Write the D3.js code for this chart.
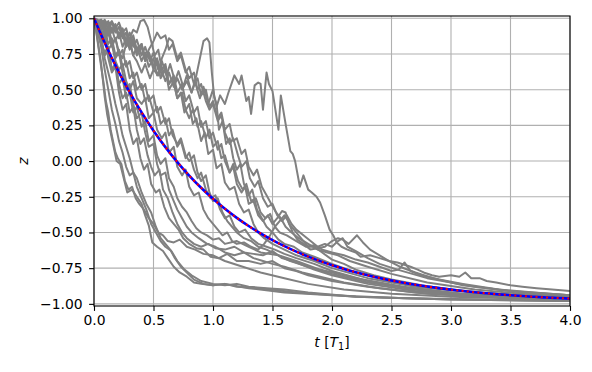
<!DOCTYPE html>
<html>
<head>
<meta charset="utf-8">
<script src="https://cdn.jsdelivr.net/npm/d3@7"></script>
<style>
  html, body { margin: 0; padding: 0; background: #fff; }
  svg { display: block; font-family: 'DejaVu Sans', sans-serif; }
</style>
</head>
<body>
<svg id="chart" width="592" height="372"></svg>
<script>
// tick values
const xTicks = [0, 0.5, 1, 1.5, 2, 2.5, 3, 3.5, 4]
const yTicks = [-1, -0.75, -0.5, -0.25, 0, 0.25, 0.5, 0.75, 1]

// mean over trajectories / analytic relaxation
const meanT = [0, 0.1, 0.2, 0.3, 0.4, 0.5, 0.6, 0.7, 0.8, 0.9, 1, 1.1, 1.2, 1.3, 1.4, 1.5, 1.6, 1.7, 1.8, 1.9, 2,
  2.1, 2.2, 2.3, 2.4, 2.5, 2.6, 2.7, 2.8, 2.9, 3, 3.1, 3.2, 3.3, 3.4, 3.5, 3.6, 3.7, 3.8, 3.9, 4]
const meanZ = [1, 0.8097, 0.6375, 0.4816, 0.3406, 0.2131, 0.0976, -0.0068, -0.1013, -0.1869, -0.2642,
  -0.3343, -0.3976, -0.4549, -0.5068, -0.5537, -0.5962, -0.6346, -0.6694, -0.7009, -0.7293,
  -0.7551, -0.7784, -0.7995, -0.8186, -0.8358, -0.8515, -0.8656, -0.8784, -0.89, -0.9004,
  -0.9099, -0.9185, -0.9262, -0.9333, -0.9396, -0.9454, -0.9506, -0.9553, -0.9595, -0.9634]
const exactZ = meanZ.slice()

// single trajectories [t, z]
const traj01 = [[0, 1], [0.03, 0.98], [0.06, 0.99], [0.09, 0.95], [0.12, 0.98], [0.15, 0.92], [0.18, 0.96], [0.21, 0.88],
  [0.24, 0.93], [0.27, 0.84], [0.3, 0.9], [0.33, 0.8], [0.36, 0.85], [0.4, 0.74], [0.43, 0.8], [0.47, 0.7], [0.5, 0.76],
  [0.54, 0.64], [0.57, 0.7], [0.61, 0.6], [0.64, 0.68], [0.68, 0.56], [0.71, 0.63], [0.75, 0.52], [0.78, 0.6],
  [0.82, 0.48], [0.85, 0.55], [0.89, 0.44], [0.92, 0.52], [0.96, 0.4], [1, 0.5], [1.03, 0.38], [1.06, 0.46],
  [1.1, 0.4], [1.13, 0.48], [1.18, 0.6], [1.22, 0.54], [1.24, 0.6], [1.28, 0.42], [1.3, 0.45], [1.32, 0.33],
  [1.35, 0.53], [1.38, 0.55], [1.4, 0.54], [1.42, 0.36], [1.45, 0.62], [1.47, 0.54], [1.5, 0.49], [1.55, 0.22],
  [1.57, 0.46], [1.61, 0.26], [1.65, 0.07], [1.67, 0.05], [1.69, 0], [1.73, -0.18], [1.76, -0.1], [1.8, -0.2],
  [1.83, -0.22], [1.87, -0.25], [1.9, -0.29], [1.94, -0.38], [1.98, -0.48], [2.01, -0.52], [2.04, -0.57],
  [2.08, -0.6], [2.13, -0.62], [2.2, -0.64], [2.24, -0.67], [2.32, -0.66], [2.4, -0.68], [2.48, -0.7],
  [2.55, -0.71], [2.66, -0.74], [2.72, -0.76], [2.77, -0.78], [2.84, -0.8], [2.9, -0.81], [3, -0.8],
  [3.07, -0.81], [3.12, -0.78], [3.17, -0.82], [3.24, -0.82], [3.3, -0.84], [3.38, -0.85], [3.5, -0.87],
  [3.6, -0.88], [3.72, -0.89], [3.85, -0.9], [4, -0.91]]
const traj02 = [[0, 1], [0.03, 0.97], [0.06, 0.99], [0.09, 0.93], [0.12, 0.97], [0.15, 0.9], [0.18, 0.95], [0.21, 0.86],
  [0.24, 0.9], [0.27, 0.8], [0.3, 0.84], [0.33, 0.74], [0.36, 0.8], [0.4, 0.7], [0.43, 0.76], [0.46, 0.66], [0.5, 0.72],
  [0.53, 0.6], [0.56, 0.66], [0.6, 0.56], [0.63, 0.62], [0.67, 0.52], [0.7, 0.58], [0.74, 0.5], [0.78, 0.56],
  [0.82, 0.48], [0.86, 0.6], [0.89, 0.72], [0.92, 0.84], [0.95, 0.86], [0.97, 0.83], [0.99, 0.62], [1.01, 0.45],
  [1.03, 0.4], [1.05, 0.22], [1.08, 0.28], [1.11, 0.12], [1.14, 0.16], [1.17, 0.02], [1.2, -0.06], [1.23, -0.02],
  [1.26, -0.16], [1.3, -0.24], [1.33, -0.2], [1.37, -0.34], [1.41, -0.4], [1.45, -0.46], [1.5, -0.5], [1.55, -0.55],
  [1.6, -0.58], [1.68, -0.6], [1.75, -0.64], [1.85, -0.67], [2, -0.72], [2.2, -0.78], [2.5, -0.84], [2.8, -0.88],
  [3.2, -0.92], [3.6, -0.94], [4, -0.96]]
const traj03 = [[0, 1], [0.03, 0.96], [0.06, 0.92], [0.09, 0.84], [0.12, 0.9], [0.15, 0.8], [0.18, 0.86], [0.21, 0.76],
  [0.24, 0.72], [0.27, 0.82], [0.3, 0.86], [0.33, 0.92], [0.36, 0.9], [0.39, 0.98], [0.42, 0.99], [0.45, 0.94],
  [0.48, 0.84], [0.51, 0.74], [0.54, 0.78], [0.57, 0.64], [0.6, 0.68], [0.63, 0.54], [0.66, 0.58], [0.7, 0.44],
  [0.73, 0.48], [0.76, 0.34], [0.8, 0.4], [0.83, 0.26], [0.86, 0.3], [0.9, 0.14], [0.93, 0.2], [0.96, 0.05],
  [1, 0.08], [1.03, -0.05], [1.07, -0.02], [1.1, -0.15], [1.14, -0.2], [1.18, -0.18], [1.22, -0.3], [1.26, -0.36],
  [1.3, -0.34], [1.34, -0.44], [1.38, -0.5], [1.43, -0.54], [1.5, -0.58], [1.6, -0.62], [1.7, -0.66], [1.85, -0.7],
  [2, -0.75], [2.3, -0.82], [2.7, -0.88], [3.2, -0.92], [3.6, -0.94], [4, -0.96]]
const traj04 = [[0, 1], [0.03, 0.98], [0.06, 0.94], [0.09, 0.98], [0.12, 0.92], [0.15, 0.97], [0.18, 0.9], [0.21, 0.94],
  [0.24, 0.86], [0.27, 0.9], [0.3, 0.8], [0.33, 0.86], [0.36, 0.76], [0.4, 0.82], [0.43, 0.7], [0.46, 0.76],
  [0.5, 0.64], [0.53, 0.7], [0.56, 0.58], [0.6, 0.64], [0.63, 0.5], [0.67, 0.56], [0.7, 0.44], [0.74, 0.48],
  [0.77, 0.36], [0.8, 0.3], [0.83, 0.36], [0.87, 0.24], [0.9, 0.28], [0.94, 0.16], [0.97, 0.22], [1, 0.1],
  [1.04, 0.14], [1.07, 0.02], [1.1, 0.04], [1.14, -0.08], [1.17, -0.04], [1.2, -0.16], [1.24, -0.22], [1.27, -0.18],
  [1.3, -0.3], [1.34, -0.28], [1.38, -0.38], [1.42, -0.42], [1.46, -0.38], [1.5, -0.44], [1.54, -0.4], [1.58, -0.35],
  [1.61, -0.36], [1.64, -0.44], [1.68, -0.48], [1.72, -0.52], [1.76, -0.56], [1.8, -0.6], [1.85, -0.6], [1.9, -0.63],
  [2, -0.69], [2.1, -0.72], [2.2, -0.76], [2.35, -0.8], [2.5, -0.83], [2.75, -0.87], [3, -0.9], [3.5, -0.94],
  [4, -0.97]]
const traj05 = [[0, 1], [0.03, 0.94], [0.06, 0.86], [0.09, 0.9], [0.12, 0.78], [0.15, 0.82], [0.18, 0.7], [0.21, 0.64],
  [0.24, 0.68], [0.27, 0.56], [0.3, 0.5], [0.33, 0.56], [0.36, 0.44], [0.4, 0.4], [0.43, 0.44], [0.46, 0.3],
  [0.5, 0.34], [0.53, 0.22], [0.57, 0.16], [0.6, 0.2], [0.63, 0.06], [0.67, 0.1], [0.7, -0.04], [0.74, -0.1],
  [0.77, -0.06], [0.8, -0.18], [0.84, -0.24], [0.88, -0.22], [0.92, -0.34], [0.96, -0.4], [1, -0.44], [1.04, -0.48],
  [1.08, -0.52], [1.12, -0.5], [1.16, -0.56], [1.2, -0.58], [1.26, -0.57], [1.32, -0.6], [1.38, -0.62],
  [1.43, -0.58], [1.48, -0.52], [1.52, -0.46], [1.56, -0.42], [1.6, -0.38], [1.63, -0.42], [1.67, -0.5],
  [1.71, -0.55], [1.76, -0.58], [1.82, -0.62], [1.88, -0.61], [1.94, -0.6], [2, -0.56], [2.05, -0.54],
  [2.09, -0.55], [2.14, -0.58], [2.21, -0.52], [2.26, -0.57], [2.32, -0.62], [2.4, -0.66], [2.48, -0.7],
  [2.57, -0.74], [2.7, -0.78], [2.85, -0.82], [3.1, -0.87], [3.5, -0.91], [4, -0.94]]
const traj06 = [[0, 1], [0.03, 0.99], [0.06, 0.96], [0.09, 0.99], [0.12, 0.95], [0.15, 0.98], [0.18, 0.93], [0.21, 0.97],
  [0.24, 0.9], [0.27, 0.93], [0.3, 0.84], [0.33, 0.88], [0.36, 0.78], [0.4, 0.82], [0.43, 0.72], [0.46, 0.76],
  [0.5, 0.66], [0.53, 0.72], [0.57, 0.6], [0.6, 0.66], [0.63, 0.54], [0.67, 0.6], [0.7, 0.48], [0.74, 0.54],
  [0.77, 0.42], [0.8, 0.46], [0.84, 0.34], [0.87, 0.38], [0.9, 0.24], [0.94, 0.28], [0.97, 0.16], [1, 0.2],
  [1.04, 0.08], [1.07, 0.12], [1.1, 0], [1.14, -0.08], [1.17, -0.02], [1.21, -0.14], [1.25, -0.2], [1.28, -0.16],
  [1.32, -0.28], [1.36, -0.26], [1.4, -0.36], [1.44, -0.4], [1.48, -0.37], [1.52, -0.46], [1.56, -0.5],
  [1.62, -0.52], [1.7, -0.56], [1.78, -0.6], [1.85, -0.59], [1.92, -0.62], [2, -0.64], [2.1, -0.66], [2.2, -0.69],
  [2.3, -0.71], [2.4, -0.74], [2.5, -0.77], [2.56, -0.76], [2.61, -0.71], [2.66, -0.77], [2.75, -0.8],
  [2.9, -0.83], [3.1, -0.86], [3.4, -0.9], [3.7, -0.92], [4, -0.94]]
const traj07 = [[0, 1], [0.03, 0.9], [0.06, 0.82], [0.09, 0.88], [0.12, 0.72], [0.15, 0.62], [0.18, 0.66], [0.21, 0.48],
  [0.24, 0.36], [0.27, 0.4], [0.3, 0.22], [0.33, 0.12], [0.36, 0.16], [0.39, 0.02], [0.42, -0.06], [0.45, -0.02],
  [0.48, -0.16], [0.52, -0.22], [0.55, -0.2], [0.59, -0.32], [0.63, -0.4], [0.67, -0.44], [0.71, -0.48],
  [0.75, -0.54], [0.8, -0.58], [0.86, -0.61], [0.92, -0.62], [0.98, -0.67], [1.05, -0.68], [1.12, -0.65],
  [1.2, -0.7], [1.3, -0.7], [1.4, -0.72], [1.5, -0.7], [1.6, -0.75], [1.7, -0.77], [1.8, -0.8], [2, -0.84],
  [2.3, -0.88], [2.7, -0.92], [3.2, -0.95], [4, -0.97]]
const traj08 = [[0, 1], [0.03, 0.95], [0.06, 0.82], [0.09, 0.76], [0.12, 0.8], [0.15, 0.64], [0.18, 0.68], [0.21, 0.54],
  [0.24, 0.44], [0.27, 0.48], [0.3, 0.34], [0.33, 0.38], [0.36, 0.22], [0.39, 0.12], [0.42, 0.16], [0.45, 0.04],
  [0.48, -0.04], [0.51, -0.1], [0.55, -0.06], [0.58, -0.2], [0.62, -0.26], [0.66, -0.36], [0.7, -0.44],
  [0.74, -0.5], [0.78, -0.54], [0.84, -0.58], [0.9, -0.6], [0.96, -0.58], [1.02, -0.61], [1.1, -0.62],
  [1.18, -0.6], [1.26, -0.64], [1.34, -0.65], [1.42, -0.66], [1.5, -0.63], [1.58, -0.68], [1.7, -0.71],
  [1.85, -0.76], [2, -0.8], [2.3, -0.86], [2.7, -0.91], [3.3, -0.95], [4, -0.97]]
const traj09 = [[0, 1], [0.02, 0.9], [0.04, 0.78], [0.06, 0.66], [0.08, 0.55], [0.1, 0.42], [0.12, 0.34], [0.14, 0.22],
  [0.16, 0.14], [0.18, 0.06], [0.2, 0.02], [0.23, -0.02], [0.26, -0.14], [0.29, -0.2], [0.32, -0.18], [0.35, -0.26],
  [0.38, -0.3], [0.42, -0.34], [0.46, -0.4], [0.5, -0.44], [0.54, -0.5], [0.58, -0.52], [0.62, -0.56],
  [0.67, -0.57], [0.72, -0.55], [0.78, -0.6], [0.85, -0.62], [0.92, -0.65], [1, -0.66], [1.1, -0.7],
  [1.25, -0.74], [1.4, -0.78], [1.6, -0.82], [1.8, -0.86], [2.1, -0.9], [2.5, -0.93], [3, -0.95], [4, -0.97]]
const traj10 = [[0, 1], [0.03, 0.92], [0.06, 0.8], [0.09, 0.64], [0.12, 0.5], [0.15, 0.36], [0.18, 0.26], [0.21, 0.14],
  [0.24, 0.06], [0.27, -0.04], [0.3, -0.1], [0.33, -0.08], [0.36, -0.18], [0.4, -0.26], [0.44, -0.34], [0.48, -0.44],
  [0.52, -0.5], [0.56, -0.56], [0.6, -0.6], [0.65, -0.63], [0.7, -0.7], [0.76, -0.76], [0.82, -0.8], [0.9, -0.84],
  [1, -0.86], [1.1, -0.87], [1.2, -0.86], [1.3, -0.88], [1.45, -0.89], [1.6, -0.9], [1.8, -0.92], [2.2, -0.95],
  [3, -0.97], [4, -0.98]]
const traj11 = [[0, 1], [0.03, 0.9], [0.06, 0.86], [0.09, 0.72], [0.12, 0.62], [0.15, 0.52], [0.18, 0.4], [0.21, 0.3],
  [0.24, 0.18], [0.27, 0.1], [0.3, 0.02], [0.33, -0.08], [0.36, -0.12], [0.4, -0.22], [0.44, -0.3], [0.48, -0.36],
  [0.52, -0.46], [0.56, -0.54], [0.6, -0.58], [0.64, -0.62], [0.68, -0.68], [0.73, -0.74], [0.78, -0.78],
  [0.84, -0.83], [0.92, -0.86], [1, -0.87], [1.1, -0.86], [1.3, -0.89], [1.6, -0.92], [2, -0.94], [2.6, -0.96],
  [3.3, -0.97], [4, -0.98]]
const traj12 = [[0, 1], [0.03, 0.85], [0.06, 0.68], [0.09, 0.45], [0.11, 0.33], [0.14, 0.2], [0.17, 0.08], [0.19, 0],
  [0.22, -0.02], [0.25, -0.12], [0.28, -0.22], [0.32, -0.2], [0.36, -0.25], [0.4, -0.3], [0.43, -0.38],
  [0.46, -0.45], [0.49, -0.57], [0.53, -0.6], [0.58, -0.63], [0.62, -0.68], [0.67, -0.74], [0.72, -0.78],
  [0.78, -0.81], [0.84, -0.85], [0.9, -0.86], [1, -0.87], [1.1, -0.86], [1.2, -0.88], [1.4, -0.89], [1.7, -0.92],
  [2.2, -0.95], [3, -0.97], [4, -0.98]]
const traj13 = [[0, 1], [0.03, 0.97], [0.06, 0.99], [0.09, 0.94], [0.12, 0.97], [0.15, 0.9], [0.18, 0.94], [0.21, 0.86],
  [0.24, 0.9], [0.27, 0.8], [0.3, 0.84], [0.33, 0.74], [0.36, 0.7], [0.4, 0.62], [0.43, 0.68], [0.47, 0.58],
  [0.5, 0.64], [0.54, 0.6], [0.57, 0.72], [0.6, 0.78], [0.63, 0.86], [0.66, 0.84], [0.7, 0.72], [0.73, 0.76],
  [0.77, 0.64], [0.8, 0.58], [0.84, 0.62], [0.87, 0.5], [0.9, 0.54], [0.94, 0.42], [0.97, 0.36], [1, 0.4],
  [1.04, 0.28], [1.07, 0.32], [1.1, 0.2], [1.14, 0.12], [1.17, 0.16], [1.21, 0.04], [1.24, -0.04], [1.28, 0],
  [1.31, -0.12], [1.35, -0.18], [1.38, -0.14], [1.42, -0.26], [1.46, -0.32], [1.5, -0.3], [1.54, -0.38],
  [1.58, -0.42], [1.62, -0.38], [1.66, -0.44], [1.7, -0.48], [1.76, -0.52], [1.82, -0.56], [1.88, -0.6],
  [1.94, -0.58], [2, -0.6], [2.05, -0.56], [2.09, -0.54], [2.13, -0.6], [2.2, -0.63], [2.3, -0.68], [2.4, -0.72],
  [2.55, -0.76], [2.8, -0.82], [3.2, -0.88], [3.6, -0.92], [4, -0.94]]
const traj14 = [[0, 1], [0.03, 0.93], [0.06, 0.88], [0.09, 0.93], [0.12, 0.82], [0.15, 0.86], [0.18, 0.74], [0.21, 0.78],
  [0.24, 0.66], [0.27, 0.7], [0.3, 0.58], [0.33, 0.62], [0.36, 0.5], [0.4, 0.54], [0.43, 0.42], [0.46, 0.46],
  [0.5, 0.34], [0.53, 0.38], [0.56, 0.26], [0.6, 0.3], [0.63, 0.18], [0.66, 0.22], [0.7, 0.1], [0.73, 0.14],
  [0.77, 0.02], [0.8, 0.06], [0.84, -0.06], [0.87, -0.12], [0.9, -0.08], [0.94, -0.2], [0.98, -0.26],
  [1.02, -0.24], [1.06, -0.34], [1.1, -0.4], [1.14, -0.38], [1.18, -0.46], [1.22, -0.5], [1.27, -0.48],
  [1.32, -0.54], [1.38, -0.58], [1.45, -0.6], [1.52, -0.62], [1.6, -0.65], [1.7, -0.68], [1.85, -0.72],
  [2, -0.77], [2.3, -0.84], [2.7, -0.9], [3.2, -0.94], [4, -0.97]]
const traj15 = [[0, 1], [0.03, 0.92], [0.06, 0.86], [0.09, 0.74], [0.12, 0.78], [0.15, 0.64], [0.18, 0.68], [0.21, 0.54],
  [0.24, 0.58], [0.27, 0.44], [0.3, 0.48], [0.33, 0.34], [0.36, 0.38], [0.4, 0.24], [0.43, 0.28], [0.46, 0.14],
  [0.5, 0.18], [0.53, 0.04], [0.56, -0.02], [0.6, 0.02], [0.63, -0.12], [0.67, -0.18], [0.7, -0.26], [0.74, -0.32],
  [0.78, -0.36], [0.82, -0.42], [0.86, -0.47], [0.9, -0.5], [0.95, -0.52], [1, -0.55], [1.05, -0.54], [1.1, -0.58],
  [1.2, -0.56], [1.3, -0.6], [1.4, -0.64], [1.55, -0.66], [1.7, -0.7], [1.9, -0.76], [2.2, -0.82], [2.6, -0.88],
  [3.1, -0.93], [4, -0.96]]
const traj16 = [[0, 1], [0.03, 0.97], [0.06, 0.92], [0.09, 0.96], [0.12, 0.88], [0.15, 0.93], [0.18, 0.84], [0.21, 0.9],
  [0.24, 0.8], [0.27, 0.86], [0.3, 0.78], [0.33, 0.84], [0.36, 0.74], [0.4, 0.8], [0.43, 0.7], [0.46, 0.78],
  [0.5, 0.84], [0.53, 0.9], [0.56, 0.86], [0.6, 0.88], [0.63, 0.78], [0.66, 0.82], [0.7, 0.7], [0.73, 0.74],
  [0.77, 0.62], [0.8, 0.66], [0.84, 0.54], [0.87, 0.58], [0.9, 0.46], [0.94, 0.5], [0.97, 0.38], [1, 0.42],
  [1.04, 0.3], [1.07, 0.34], [1.1, 0.22], [1.14, 0.26], [1.17, 0.14], [1.2, 0.16], [1.24, 0.05], [1.27, 0.08],
  [1.3, -0.04], [1.34, -0.1], [1.37, -0.06], [1.41, -0.18], [1.45, -0.24], [1.49, -0.3], [1.53, -0.36],
  [1.57, -0.4], [1.61, -0.46], [1.66, -0.5], [1.72, -0.54], [1.8, -0.58], [1.88, -0.62], [1.96, -0.64],
  [2.05, -0.66], [2.15, -0.7], [2.3, -0.74], [2.5, -0.79], [2.8, -0.85], [3.2, -0.9], [3.6, -0.93], [4, -0.95]]
const traj17 = [[0, 1], [0.03, 0.95], [0.06, 0.97], [0.09, 0.88], [0.12, 0.92], [0.15, 0.82], [0.18, 0.86], [0.21, 0.74],
  [0.24, 0.78], [0.27, 0.66], [0.3, 0.7], [0.33, 0.58], [0.36, 0.62], [0.4, 0.5], [0.43, 0.54], [0.46, 0.42],
  [0.5, 0.46], [0.53, 0.34], [0.56, 0.38], [0.6, 0.26], [0.63, 0.3], [0.66, 0.18], [0.7, 0.12], [0.73, 0.16],
  [0.77, 0.04], [0.8, 0], [0.84, 0.04], [0.87, -0.08], [0.9, -0.14], [0.94, -0.1], [0.97, -0.22], [1, -0.28],
  [1.04, -0.26], [1.08, -0.36], [1.12, -0.42], [1.16, -0.46], [1.2, -0.5], [1.26, -0.54], [1.32, -0.56],
  [1.38, -0.6], [1.45, -0.62], [1.55, -0.66], [1.65, -0.7], [1.8, -0.74], [2, -0.79], [2.3, -0.85], [2.7, -0.9],
  [3.2, -0.94], [4, -0.97]]
const traj18 = [[0, 1], [0.03, 0.96], [0.06, 0.98], [0.09, 0.9], [0.12, 0.94], [0.15, 0.84], [0.18, 0.72], [0.21, 0.76],
  [0.24, 0.62], [0.27, 0.5], [0.3, 0.54], [0.33, 0.4], [0.36, 0.3], [0.4, 0.34], [0.43, 0.2], [0.46, 0.1],
  [0.5, 0.12], [0.53, -0.02], [0.56, -0.1], [0.6, -0.08], [0.63, -0.2], [0.67, -0.28], [0.7, -0.34], [0.74, -0.4],
  [0.78, -0.46], [0.82, -0.5], [0.88, -0.54], [0.95, -0.58], [1.02, -0.6], [1.1, -0.64], [1.18, -0.66],
  [1.26, -0.64], [1.34, -0.68], [1.42, -0.7], [1.5, -0.72], [1.6, -0.74], [1.75, -0.78], [1.9, -0.81],
  [2.1, -0.85], [2.4, -0.89], [2.8, -0.93], [3.3, -0.95], [4, -0.97]]

const trajectories = [traj01, traj02, traj03, traj04, traj05, traj06, traj07, traj08, traj09,
  traj10, traj11, traj12, traj13, traj14, traj15, traj16, traj17, traj18]

const margin = { left: 94, right: 22, top: 16, bottom: 66 }
const width = 592
const height = 372

const svg = d3.select('#chart')

const x = d3.scaleLinear().domain([0, 4]).range([margin.left, width - margin.right])
const y = d3.scaleLinear().domain([-1.015, 1.016]).range([height - margin.bottom, margin.top])

const fmtY = (d) => d3.format('.2f')(d).replace('-', '\u2212')

// grid
const grid = svg.append('g')
grid.selectAll('.gx')
  .data(xTicks)
  .enter()
  .append('line')
  .attr('x1', (d) => x(d))
  .attr('x2', (d) => x(d))
  .attr('y1', y.range()[0])
  .attr('y2', y.range()[1])
  .attr('stroke', '#b0b0b0')
  .attr('stroke-width', 1.1)
grid.selectAll('.gy')
  .data(yTicks)
  .enter()
  .append('line')
  .attr('x1', x.range()[0])
  .attr('x2', x.range()[1])
  .attr('y1', (d) => y(d))
  .attr('y2', (d) => y(d))
  .attr('stroke', '#b0b0b0')
  .attr('stroke-width', 1.1)

svg.append('clipPath')
  .attr('id', 'clip')
  .append('rect')
  .attr('x', x.range()[0])
  .attr('y', y.range()[1])
  .attr('width', x.range()[1] - x.range()[0])
  .attr('height', y.range()[0] - y.range()[1])

const plot = svg.append('g').attr('clip-path', 'url(#clip)')

// trajectories
const trajLine = d3.line()
  .x((d) => x(d[0]))
  .y((d) => y(d[1]))

plot.selectAll('.traj')
  .data(trajectories)
  .enter()
  .append('path')
  .attr('d', trajLine)
  .attr('fill', 'none')
  .attr('stroke', '#808080')
  .attr('stroke-width', 2)
  .attr('stroke-linejoin', 'round')

// mean and analytic curves
const meanLine = d3.line()
  .x((d, i) => x(meanT[i]))
  .y((d) => y(d))
  .curve(d3.curveMonotoneX)

plot.append('path')
  .attr('d', meanLine(meanZ))
  .attr('fill', 'none')
  .attr('stroke', '#0000ff')
  .attr('stroke-width', 2.6)

plot.append('path')
  .attr('d', meanLine(exactZ))
  .attr('fill', 'none')
  .attr('stroke', '#ff0000')
  .attr('stroke-width', 2)
  .attr('stroke-dasharray', '2,3.3')

// axes
const xAxis = svg.append('g')
  .attr('transform', `translate(0,${y.range()[0]})`)
  .call(d3.axisBottom(x).tickValues(xTicks).tickFormat(d3.format('.1f')).tickSize(4.9).tickPadding(4))
const yAxis = svg.append('g')
  .attr('transform', `translate(${x.range()[0]},0)`)
  .call(d3.axisLeft(y).tickValues(yTicks).tickFormat(fmtY).tickSize(4.9).tickPadding(6.5))

;[xAxis, yAxis].forEach((a) => {
  a.select('.domain').remove()
  a.selectAll('line').attr('stroke', '#000').attr('stroke-width', 1.1)
  a.selectAll('text')
    .attr('fill', '#000')
    .style('font-family', "'DejaVu Sans', sans-serif")
    .style('font-size', '13.9px')
})

// spines
svg.append('rect')
  .attr('x', x.range()[0])
  .attr('y', y.range()[1])
  .attr('width', x.range()[1] - x.range()[0])
  .attr('height', y.range()[0] - y.range()[1])
  .attr('fill', 'none')
  .attr('stroke', '#000')
  .attr('stroke-width', 1.1)

// axis labels
const xLabel = svg.append('text')
  .attr('x', (x.range()[0] + x.range()[1]) / 2)
  .attr('y', 347)
  .attr('text-anchor', 'middle')
  .style('font-size', '13.9px')
xLabel.append('tspan').attr('font-style', 'italic').text('t')
xLabel.append('tspan').text('\u00a0[')
xLabel.append('tspan').attr('font-style', 'italic').text('T')
xLabel.append('tspan').attr('font-size', '9.7px').attr('dy', 3).text('1')
xLabel.append('tspan').attr('dy', -3).text(']')

svg.append('text')
  .attr('transform', `translate(28,${y(0)}) rotate(-90)`)
  .attr('text-anchor', 'middle')
  .attr('font-style', 'italic')
  .style('font-size', '13.9px')
  .text('z')
</script>
</body>
</html>
